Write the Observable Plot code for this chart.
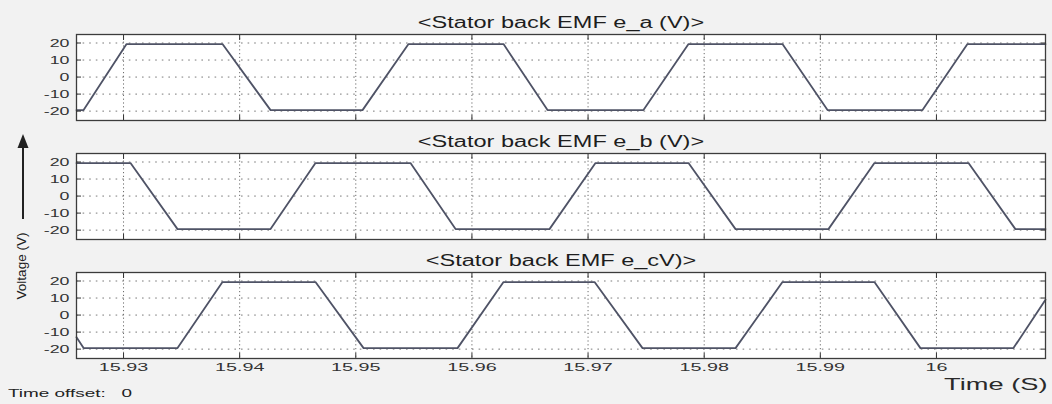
<!DOCTYPE html>
<html>
<head>
<meta charset="utf-8">
<script src="https://cdn.jsdelivr.net/npm/d3@7"></script>
<script src="https://cdn.jsdelivr.net/npm/@observablehq/plot@0.6"></script>
<style>
  body { margin: 0; background: #f2f2f2; }
  #scope {
    position: relative; width: 1052px; height: 404px; overflow: hidden;
    font-family: "Liberation Sans", Arial, sans-serif; color: #222;
  }
  #scope svg { display: block; }
  #vlabel {
    position: absolute; left: 21px; top: 266px; white-space: nowrap;
    font-size: 13.5px; transform: translate(-50%, -50%) rotate(-90deg);
  }
  #arrow { position: absolute; left: 0; top: 0; }
  #offset {
    position: absolute; left: 8px; top: 387px; font-size: 10.5px; white-space: pre;
    transform: scaleX(1.8); transform-origin: left top; color: #222;
  }
</style>
</head>
<body>
<div id="scope">
  <svg id="arrow" width="50" height="230">
    <line x1="23" y1="219" x2="23" y2="142" stroke="#222" stroke-width="2"/>
    <path d="M23,134 L17.5,148 L28.5,148 Z" fill="#222"/>
  </svg>
  <div id="vlabel">Voltage (V)</div>
  <div id="offset">Time offset:   0</div>
</div>
<script>
// Three phase back-EMF traces, one scope panel each
const seriesKeys = ["e_a", "e_b", "e_c"];
const panelTitles = [
  "<Stator back EMF e_a (V)>",
  "<Stator back EMF e_b (V)>",
  "<Stator back EMF e_cV)>"
];
const timeTicks = [15.93, 15.94, 15.95, 15.96, 15.97, 15.98, 15.99, 16];
const voltTicks = [20, 10, 0, -10, -20];

// Corner points of each trapezoidal trace (time in s, voltage in V)
const eaTime = [15.92595, 15.92656, 15.93026, 15.93852, 15.94266, 15.95058, 15.95454, 15.96272,
                15.96651, 15.97477, 15.97865, 15.98674, 15.99062, 15.99880, 16.00267, 16.00939];
const eaVolts = [-19.4, -19.4, 19.4, 19.4, -19.4, -19.4, 19.4, 19.4,
                 -19.4, -19.4, 19.4, 19.4, -19.4, -19.4, 19.4, 19.4];

const ebTime = [15.92595, 15.93060, 15.93465, 15.94266, 15.94653, 15.95471, 15.95859, 15.96668,
                15.97064, 15.97865, 15.98270, 15.99070, 15.99466, 16.00276, 16.00680, 16.00939];
const ebVolts = [19.4, 19.4, -19.4, -19.4, 19.4, 19.4, -19.4, -19.4,
                 19.4, 19.4, -19.4, -19.4, 19.4, 19.4, -19.4, -19.4];

const ecTime = [15.92595, 15.92656, 15.93465, 15.93852, 15.94653, 15.95067, 15.95876, 15.96272,
                15.97056, 15.97469, 15.98270, 15.98674, 15.99466, 15.99862, 16.00663, 16.00939];
const ecVolts = [-13, -19.4, -19.4, 19.4, 19.4, -19.4, -19.4, 19.4,
                 19.4, -19.4, -19.4, 19.4, 19.4, -19.4, -19.4, 9];

const traces = [[eaTime, eaVolts], [ebTime, ebVolts], [ecTime, ecVolts]];
const rows = traces.flatMap(([ts, vs], k) =>
  ts.map((t, i) => ({series: seriesKeys[k], t, v: vs[i]})));

const tickInk = "#333";
const timeFormat = d3.format("~g");

// font sizes double as keys for how much each kind of text is widened
const TITLE_SIZE = 16, XLABEL_SIZE = 11.5, YLABEL_SIZE = 11, AXIS_TITLE_SIZE = 16.5;
const widenBy = {[TITLE_SIZE]: 1.47, [XLABEL_SIZE]: 1.72, [YLABEL_SIZE]: 1.62, [AXIS_TITLE_SIZE]: 1.65};

const chart = Plot.plot({
  width: 1052,
  height: 404,
  marginLeft: 76,
  marginRight: 7,
  marginTop: 33,
  marginBottom: 45,
  style: {background: "transparent", fontFamily: "'Liberation Sans', Arial, sans-serif", fontSize: "11px", color: tickInk},
  x: {domain: [15.92595, 16.00939]},
  y: {domain: [-25.5, 25]},
  fy: {domain: seriesKeys, axis: null, paddingInner: 0.275, paddingOuter: 0},
  marks: [
    Plot.frame({fill: "white", stroke: "none"}),
    Plot.gridX({ticks: timeTicks, stroke: "#6a6a6a", strokeOpacity: 1, strokeDasharray: "1.2,2.6"}),
    Plot.gridY({ticks: voltTicks, stroke: "#7a7a7a", strokeOpacity: 1, strokeDasharray: "1.6,5"}),
    Plot.line(rows, {x: "t", y: "v", fy: "series", stroke: "#4f5366", strokeWidth: 1.8}),
    Plot.frame({stroke: "#3c3c3c", strokeWidth: 1.3}),
    // inward tick marks on all four sides of every panel
    Plot.axisX({ticks: timeTicks, anchor: "bottom", tickSize: -5, fill: "none", label: null, facetAnchor: null, stroke: tickInk}),
    Plot.axisX({ticks: timeTicks, anchor: "top", tickSize: -5, fill: "none", label: null, facetAnchor: null, stroke: tickInk}),
    Plot.axisY({ticks: voltTicks, anchor: "left", tickSize: -5, fill: "none", label: null, facetAnchor: null, stroke: tickInk}),
    Plot.axisY({ticks: voltTicks, anchor: "right", tickSize: -5, fill: "none", label: null, facetAnchor: null, stroke: tickInk}),
    // voltage tick labels beside every panel
    Plot.text(voltTicks, {y: d => d, text: d => String(d), frameAnchor: "left", textAnchor: "end",
                          dx: -7, fontSize: YLABEL_SIZE, fill: tickInk}),
    // time tick labels under the bottom panel only
    Plot.text(timeTicks, {x: d => d, fy: () => seriesKeys[2], text: d => timeFormat(d),
                          frameAnchor: "bottom", lineAnchor: "top", dy: 4,
                          fontSize: XLABEL_SIZE, fill: tickInk}),
    // x-axis title at the lower right of the bottom panel
    Plot.text(["Time (S)"], {fy: () => seriesKeys[2], frameAnchor: "bottom-right", textAnchor: "end",
                             lineAnchor: "bottom", dy: 31, dx: 2, fontSize: AXIS_TITLE_SIZE, fill: "#2a2a2a"}),
    // panel titles
    Plot.text(seriesKeys, {fy: d => d, text: (d, i) => panelTitles[i], frameAnchor: "top",
                           lineAnchor: "bottom", dy: -7, fontSize: TITLE_SIZE, fill: "#1e1e1e"})
  ]
});

document.getElementById("scope").prepend(chart);

// The scope uses broad glyphs; widen the rendered text to that look.
chart.querySelectorAll("text").forEach(t => {
  const size = Math.round(parseFloat(getComputedStyle(t).fontSize) * 10) / 10;
  const factor = widenBy[size];
  const w = t.getComputedTextLength();
  if (factor && w > 0) {
    t.setAttribute("textLength", (w * factor).toFixed(1));
    t.setAttribute("lengthAdjust", "spacingAndGlyphs");
  }
});
</script>
</body>
</html>
